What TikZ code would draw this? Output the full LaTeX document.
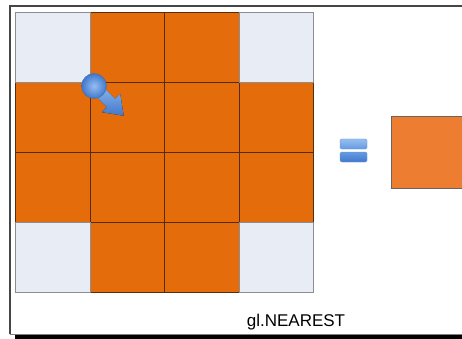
\documentclass[tikz,border=0pt]{standalone}
\usepackage{fontspec}
\setmainfont{Liberation Sans}
\usepackage{xcolor}
\usetikzlibrary{positioning, shapes.geometric}
\definecolor{CellOrange}{RGB}{228, 108, 10}
\definecolor{CellEdge}{RGB}{85, 45, 12}
\definecolor{CornerGray}{RGB}{232, 236, 245}
\definecolor{CornerEdge}{RGB}{140, 140, 145}
\definecolor{ResultOrange}{RGB}{237, 125, 49}
\definecolor{ResultEdge}{RGB}{105, 100, 95}
\definecolor{ArrowLight}{RGB}{150, 190, 240}
\definecolor{ArrowMid}{RGB}{100, 155, 225}
\definecolor{ArrowDark}{RGB}{65, 120, 205}
\definecolor{FrameGray}{RGB}{70, 70, 70}
\tikzset{
  cell/.style={rectangle, anchor=north west, inner sep=0pt,
    minimum width=74.5pt, minimum height=70pt, draw=CellEdge,
    fill=CellOrange, line width=1.3pt},
  corner/.style={cell, draw=CornerEdge, fill=CornerGray},
  result/.style={rectangle, anchor=north west, inner sep=0pt,
    minimum width=72pt, minimum height=72pt, draw=ResultEdge,
    fill=ResultOrange, line width=1.3pt},
  eqbar/.style={rounded corners=1.5pt, draw=ArrowDark!80, line width=0.4pt},
  frame/.style={draw=FrameGray, line width=1.5pt},
}

\begin{document}
\begin{tikzpicture}[x=1pt, y=-1pt]
  \path[use as bounding box, clip] (0,0) rectangle (462,339);
  \fill[white] (0,0) rectangle (462,339);
  % outer frame
  \draw[frame] (10,334) -- (10,6) -- (470,6);
  \draw[draw=FrameGray!70, line width=1pt] (10,334) -- (470,334);
  \draw[black, line width=3.5pt] (15,337) -- (470,337);
  % texture grid
  \foreach \r in {0,...,3}
    \foreach \c in {0,...,3}
      \node[cell] (cell-\r-\c) at ({15+74.5*\c},{12+70*\r}) {};
  \foreach \r/\c in {0/0, 0/3, 3/0, 3/3}
    \node[corner] (cell-\r-\c) at ({15+74.5*\c},{12+70*\r}) {};
  % sampling arrow
  \begin{scope}[shift={(94,86)}, rotate=-45]
    \fill[top color=ArrowLight, bottom color=ArrowDark]
      (0,-6) -- (24,-6) -- (24,-13) -- (42,0) -- (24,13) -- (24,6)
      -- (0,6) -- cycle;
  \end{scope}
  \shade[inner color=ArrowLight, outer color=ArrowDark,
    draw=ArrowDark!90!black, line width=0.4pt] (94,86) circle (12.5);
  % equals sign
  \shade[eqbar, top color=ArrowLight, bottom color=ArrowMid]
    (340,139) rectangle (367,149);
  \shade[eqbar, top color=ArrowMid, bottom color=ArrowDark]
    (340,152) rectangle (367,162);
  % sampled result
  \node[result] (texel) at (391,116) {};
  \node[font=\fontsize{17}{20}\selectfont] (mode) at (296,322) {gl.NEAREST};
\end{tikzpicture}
\end{document}
